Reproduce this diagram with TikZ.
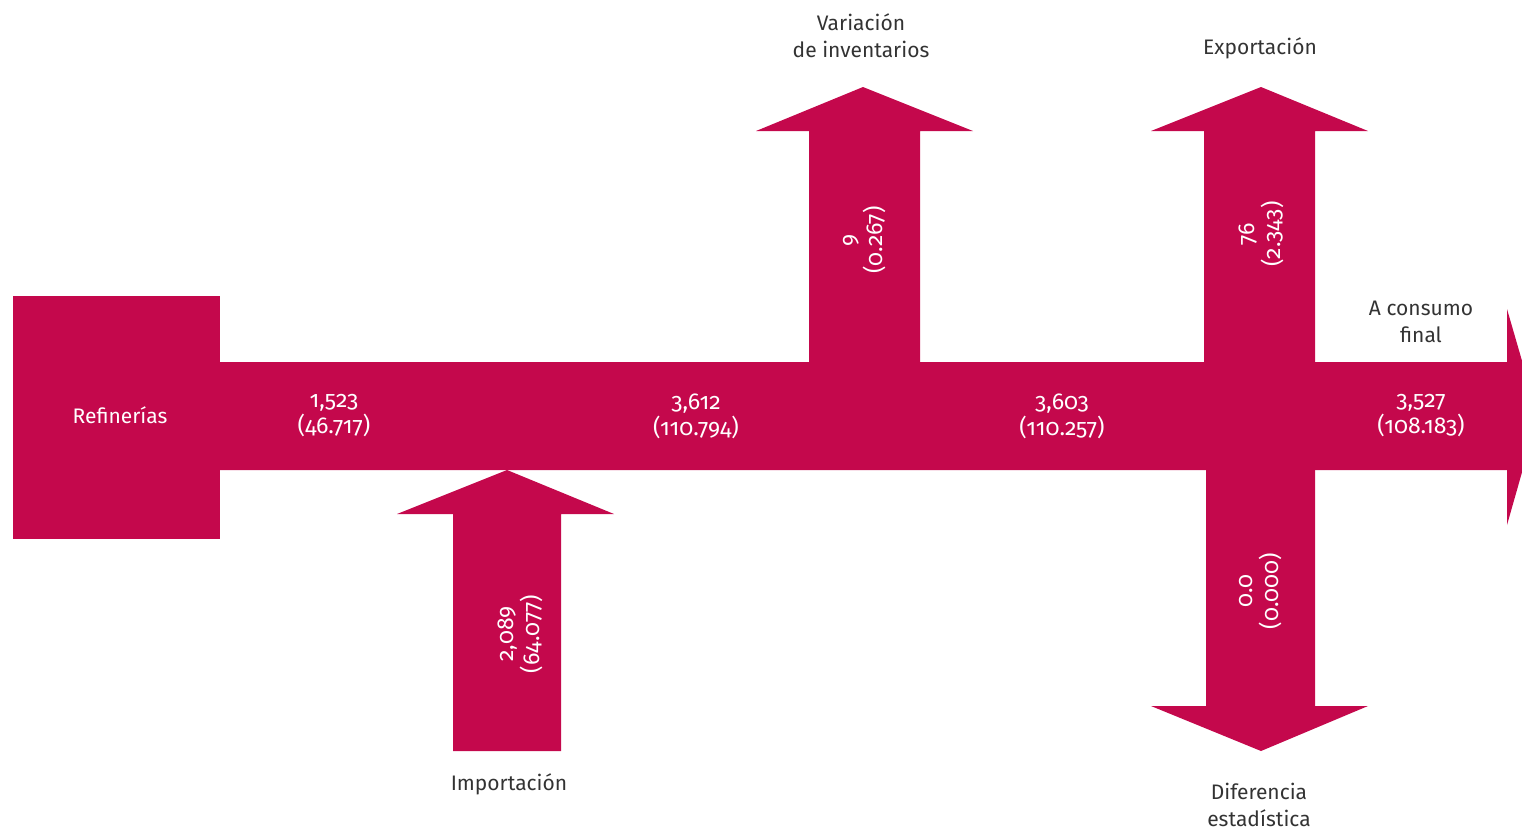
\documentclass[tikz,border=0pt]{standalone}
\usepackage{fontspec}
\setmainfont[Numbers=OldStyle]{Fira Sans}
\definecolor{flow}{HTML}{C4084C}
\definecolor{ink}{HTML}{333333}
\begin{document}
\begin{tikzpicture}[x=0.5pt,y=-0.5pt,
  band/.style={fill=flow,draw=none},
  val/.style={text=white,align=center,font=\fontsize{11.5}{13}\selectfont,inner sep=0pt},
  lab/.style={text=ink,align=center,font=\fontsize{10.5}{13.5}\selectfont,inner sep=0pt}]
\useasboundingbox (0,0) rectangle (1522,832);
\clip (0,0) rectangle (1522,832);
% Refinerias box
\fill[band] (13,296) rectangle (220,539);
% main band with arrow head
\fill[band] (219,362) -- (1507,362) -- (1507,309) -- (1538,416) -- (1507,525) -- (1507,470) -- (219,470) -- cycle;
% Variacion de inventarios (up)
\fill[band] (809,363) -- (809,131) -- (756,131) -- (863,87) -- (973,131) -- (920,131) -- (920,363) -- cycle;
% Exportacion (up)
\fill[band] (1204,363) -- (1204,131) -- (1151,131) -- (1261,87) -- (1368,131) -- (1315,131) -- (1315,363) -- cycle;
% Diferencia estadistica (down)
\fill[band] (1206,469) -- (1206,706) -- (1151,706) -- (1261,751) -- (1368,706) -- (1315,706) -- (1315,469) -- cycle;
% Importacion (up into band)
\fill[band] (453,751) -- (453,514) -- (397,514) -- (507,470) -- (614,514) -- (561,514) -- (561,751) -- cycle;
% texts
\node[val,font=\fontsize{10.5}{13}\selectfont] (ref) at (120,415) {Refinerías};
\node[val] (v1) at (334,416) {1,523\\(46.717)};
\node[val] (v2) at (696,416) {3,612\\(110.794)};
\node[val] (v3) at (1062,416) {3,603\\(110.257)};
\node[val] (v4) at (1421,416) {3,527\\(108.183)};
\node[val,rotate=90] (vi) at (865,240) {9\\(0.267)};
\node[val,rotate=90] (ve) at (1261,234) {76\\(2.343)};
\node[val,rotate=90] (vm) at (520,634) {2,089\\(64.077)};
\node[val,rotate=90] (vd) at (1261,591) {0.0\\(0.000)};
\node[lab] (lcf) at (1421,322) {A consumo\\final};
\node[lab] (lvi) at (861,36) {Variación\\de inventarios};
\node[lab] (lex) at (1260,48) {Exportación};
\node[lab] (lim) at (509,784) {Importación};
\node[lab] (ldi) at (1259,805) {Diferencia\\estadística};
\end{tikzpicture}
\end{document}
